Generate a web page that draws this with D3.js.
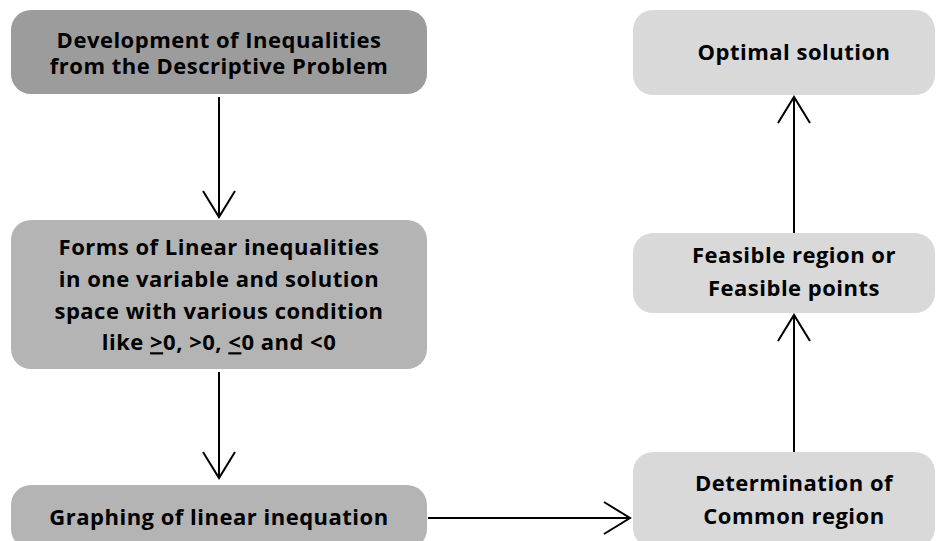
<!DOCTYPE html>
<html lang="en">
<head>
<meta charset="utf-8">
<title>Linear inequalities flow</title>
<script src="https://cdn.jsdelivr.net/npm/d3@7/dist/d3.min.js"></script>
<style>
  html, body { margin: 0; padding: 0; background: #fff; }
  svg { display: block; }
  .step-text { font-family: "Open Sans", "Noto Sans", sans-serif; font-weight: 700; fill: #000; font-size: 22px; letter-spacing: 0.5px; }
  .flow { stroke: #000; stroke-width: 2; fill: none; }
</style>
</head>
<body>
<div id="chart"></div>
<script type="text/javascript">

//////////////////////////////////////
// data: the steps and how they connect
// "_" marks a character that is printed underlined
var stepIds = ["develop", "forms", "graphing", "common", "feasible", "optimal"];

var stepLines = [
  ["Development of Inequalities", "from the Descriptive Problem"],
  ["Forms of Linear inequalities", "in one variable and solution", "space with various condition", "like _>0, >0, _<0 and <0"],
  ["Graphing of linear inequation"],
  ["Determination of", "Common region"],
  ["Feasible region or", "Feasible points"],
  ["Optimal solution"]
];

var stepColumn = ["left", "left", "left", "right", "right", "right"];

var flowLinks = [
  ["develop", "forms"],
  ["forms", "graphing"],
  ["graphing", "common"],
  ["common", "feasible"],
  ["feasible", "optimal"]
];

//////////////////////////////////////
// layout (pixels)
var width = 936, height = 541;

var columnX = { left: [11, 427], right: [633, 935] };
var textX = { left: 219, right: 794 };

var boxY = {
  develop:  [10, 94],
  forms:    [220, 369],
  graphing: [485, 549],
  common:   [452, 548],
  feasible: [233, 313],
  optimal:  [10, 95]
};
// vertical centre of the text block and spacing between lines
var textY = { develop: 53, forms: 295, graphing: 517, common: 499.5, feasible: 271.5, optimal: 52 };
var lineGap = { develop: 26, forms: 31.7, graphing: 32, common: 33, feasible: 33, optimal: 32 };
var boxFill = {
  develop: "#9c9c9c", forms: "#b4b4b4", graphing: "#b4b4b4",
  common: "#d9d9d9", feasible: "#d9d9d9", optimal: "#d9d9d9"
};
// gap left between box edge and arrow ends [start, end]
var linkGap = [[3, 3], [3, 7], [1, 3], [0, 2], [0, 2]];
var headLen = 26, headHalf = 16;

var svg = d3.select("#chart").append("svg")
  .attr("width", width).attr("height", height);

var steps = stepIds.map(function(id, i) {
  var col = stepColumn[i];
  return {
    id: id, lines: stepLines[i], col: col,
    x0: columnX[col][0], x1: columnX[col][1],
    y0: boxY[id][0], y1: boxY[id][1],
    tx: textX[col], ty: textY[id]
  };
});
var byId = {};
steps.forEach(function(s) { byId[s.id] = s; });

//////////////////////////////////////
// boxes
var node = svg.selectAll("g.step")
  .data(steps, function(d) { return d.id; })
  .enter().append("g").attr("class", "step");

node.append("rect")
  .attr("x", function(d) { return d.x0; })
  .attr("y", function(d) { return d.y0; })
  .attr("width", function(d) { return d.x1 - d.x0; })
  .attr("height", function(d) { return d.y1 - d.y0; })
  .attr("rx", 20).attr("ry", 20)
  .attr("fill", function(d) { return boxFill[d.id]; });

node.each(function(d) {
  var g = d3.select(this);
  var n = d.lines.length, gap = lineGap[d.id];
  d.lines.forEach(function(line, k) {
    var t = g.append("text").attr("class", "step-text")
      .attr("x", d.tx)
      .attr("y", d.ty + (k - (n - 1) / 2) * gap)
      .attr("dy", "0.35em")
      .attr("text-anchor", "middle");
    // split on the underline marker
    line.split(/(_.)/).forEach(function(p) {
      if (!p) return;
      if (p[0] === "_") {
        t.append("tspan").text(p[1]).style("text-decoration", "underline");
      } else {
        t.append("tspan").text(p);
      }
    });
  });
});

//////////////////////////////////////
// arrows with open heads
function linkPoints(a, b, gap) {
  if (a.col === b.col && a.col === "left") {
    return [[a.tx, a.y1 + gap[0]], [a.tx, b.y0 - gap[1]]];
  }
  if (a.col !== b.col) {
    return [[a.x1 + gap[0], a.ty + 1], [b.x0 - gap[1], a.ty + 1]];
  }
  // upward in the right column
  return [[a.tx, a.y0 - gap[0]], [a.tx, b.y1 + gap[1]]];
}

var links = flowLinks.map(function(l, i) {
  return linkPoints(byId[l[0]], byId[l[1]], linkGap[i]);
});

var line = d3.line();

svg.selectAll("path.flow-line")
  .data(links)
  .enter().append("path").attr("class", "flow")
  .attr("d", function(d) { return line(d); });

svg.selectAll("path.flow-head")
  .data(links)
  .enter().append("path").attr("class", "flow")
  .attr("d", function(d) {
    var p = d[0], q = d[1];
    var dx = q[0] - p[0], dy = q[1] - p[1];
    var len = Math.sqrt(dx * dx + dy * dy);
    var ux = dx / len, uy = dy / len;
    var bx = q[0] - ux * headLen, by = q[1] - uy * headLen;
    return line([[bx - uy * headHalf, by + ux * headHalf], q, [bx + uy * headHalf, by - ux * headHalf]]);
  });

</script>
</body>
</html>
